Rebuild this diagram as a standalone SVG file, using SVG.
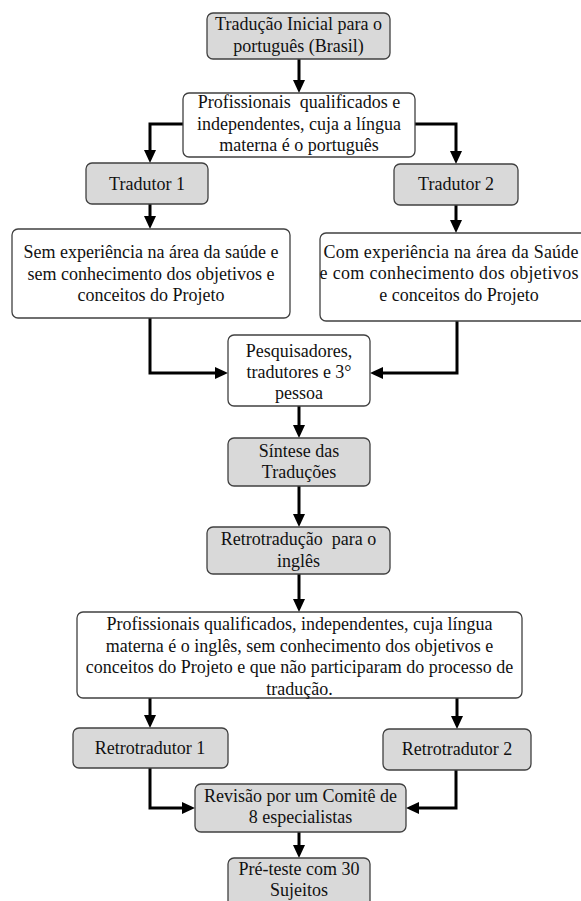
<svg xmlns="http://www.w3.org/2000/svg" width="581" height="901" viewBox="0 0 581 901">
<defs>
<style>
.box{stroke:#404040;stroke-width:1.3}
.g{fill:#d9d9d9}
.w{fill:#ffffff}
.t{font-family:"Liberation Serif","Times New Roman",serif;font-size:18px;fill:#111;text-anchor:middle;white-space:pre}
.c{fill:none;stroke:#000;stroke-width:3;marker-end:url(#ah)}
</style>
<marker id="ah" viewBox="0 0 13 12" refX="7" refY="6" markerWidth="13" markerHeight="12" markerUnits="userSpaceOnUse" orient="auto">
<path d="M0,0 L13,6 L0,12 z" fill="#000"/>
</marker>
</defs>
<rect width="581" height="901" fill="#fff"/>
<g id="connectors">
<path class="c" d="M299,59 V87"/>
<path class="c" d="M183,124 H150 V157"/>
<path class="c" d="M415,124 H456 V158"/>
<path class="c" d="M150,204 V223"/>
<path class="c" d="M456,205 V227"/>
<path class="c" d="M150,318 V373 H222"/>
<path class="c" d="M457,321 V373 H376"/>
<path class="c" d="M299,406 V432"/>
<path class="c" d="M299,486 V521"/>
<path class="c" d="M299,574 V606"/>
<path class="c" d="M150,698 V722"/>
<path class="c" d="M457,698 V723"/>
<path class="c" d="M150,768 V808 H189"/>
<path class="c" d="M456,770 V808 H412"/>
<path class="c" d="M299,832 V852"/>
</g>
<g id="n1">
<rect class="box g" x="207" y="13" width="183" height="46" rx="6"/>
<text class="t" x="298.5" y="30">Tradução Inicial para o</text>
<text class="t" x="298.5" y="52">português (Brasil)</text>
</g>
<g id="n2">
<rect class="box w" x="183" y="93" width="232" height="64" rx="6"/>
<text class="t" x="299" y="108">Profissionais  qualificados e</text>
<text class="t" x="299" y="130">independentes, cuja a língua</text>
<text class="t" x="299" y="151">materna é o português</text>
</g>
<g id="n3">
<rect class="box g" x="86" y="163" width="122" height="41" rx="6"/>
<text class="t" x="147" y="190">Tradutor 1</text>
</g>
<g id="n4">
<rect class="box g" x="394" y="164" width="124" height="41" rx="6"/>
<text class="t" x="456" y="190">Tradutor 2</text>
</g>
<g id="n5">
<rect class="box w" x="12" y="229" width="278" height="89" rx="6"/>
<text class="t" x="151" y="258">Sem experiência na área da saúde e</text>
<text class="t" x="151" y="280">sem conhecimento dos objetivos e</text>
<text class="t" x="151" y="301">conceitos do Projeto</text>
</g>
<g id="n6">
<rect class="box w" x="320" y="233" width="278" height="88" rx="6"/>
<text class="t" x="451" y="258" textLength="255" lengthAdjust="spacing">Com experiência na área da Saúde</text>
<text class="t" x="449" y="279" textLength="259" lengthAdjust="spacing">e com conhecimento dos objetivos</text>
<text class="t" x="459" y="301">e conceitos do Projeto</text>
</g>
<g id="n7">
<rect class="box w" x="228" y="335" width="142" height="71" rx="6"/>
<text class="t" x="299" y="357">Pesquisadores,</text>
<text class="t" x="299" y="378">tradutores e 3°</text>
<text class="t" x="299" y="399">pessoa</text>
</g>
<g id="n8">
<rect class="box g" x="228" y="438" width="142" height="48" rx="6"/>
<text class="t" x="299" y="457">Síntese das</text>
<text class="t" x="299" y="478">Traduções</text>
</g>
<g id="n9">
<rect class="box g" x="207" y="527" width="183" height="47" rx="6"/>
<text class="t" x="298.5" y="545">Retrotradução  para o</text>
<text class="t" x="298.5" y="567">inglês</text>
</g>
<g id="n10">
<rect class="box w" x="77" y="612" width="445" height="86" rx="6"/>
<text class="t" x="299.5" y="630">Profissionais qualificados, independentes, cuja língua</text>
<text class="t" x="299.5" y="651.5">materna é o inglês, sem conhecimento dos objetivos e</text>
<text class="t" x="299.5" y="673">conceitos do Projeto e que não participaram do processo de</text>
<text class="t" x="299.5" y="694.5">tradução.</text>
</g>
<g id="n11">
<rect class="box g" x="73" y="728" width="155" height="40" rx="6"/>
<text class="t" x="150" y="754">Retrotradutor 1</text>
</g>
<g id="n12">
<rect class="box g" x="383" y="729" width="148" height="41" rx="6"/>
<text class="t" x="457" y="755">Retrotradutor 2</text>
</g>
<g id="n13">
<rect class="box g" x="195" y="784" width="211" height="48" rx="6"/>
<text class="t" x="300.5" y="802">Revisão por um Comitê de</text>
<text class="t" x="300.5" y="823">8 especialistas</text>
</g>
<g id="n14">
<rect class="box g" x="228" y="858" width="142" height="50" rx="6"/>
<text class="t" x="299" y="875">Pré-teste com 30</text>
<text class="t" x="299" y="896">Sujeitos</text>
</g>
</svg>
